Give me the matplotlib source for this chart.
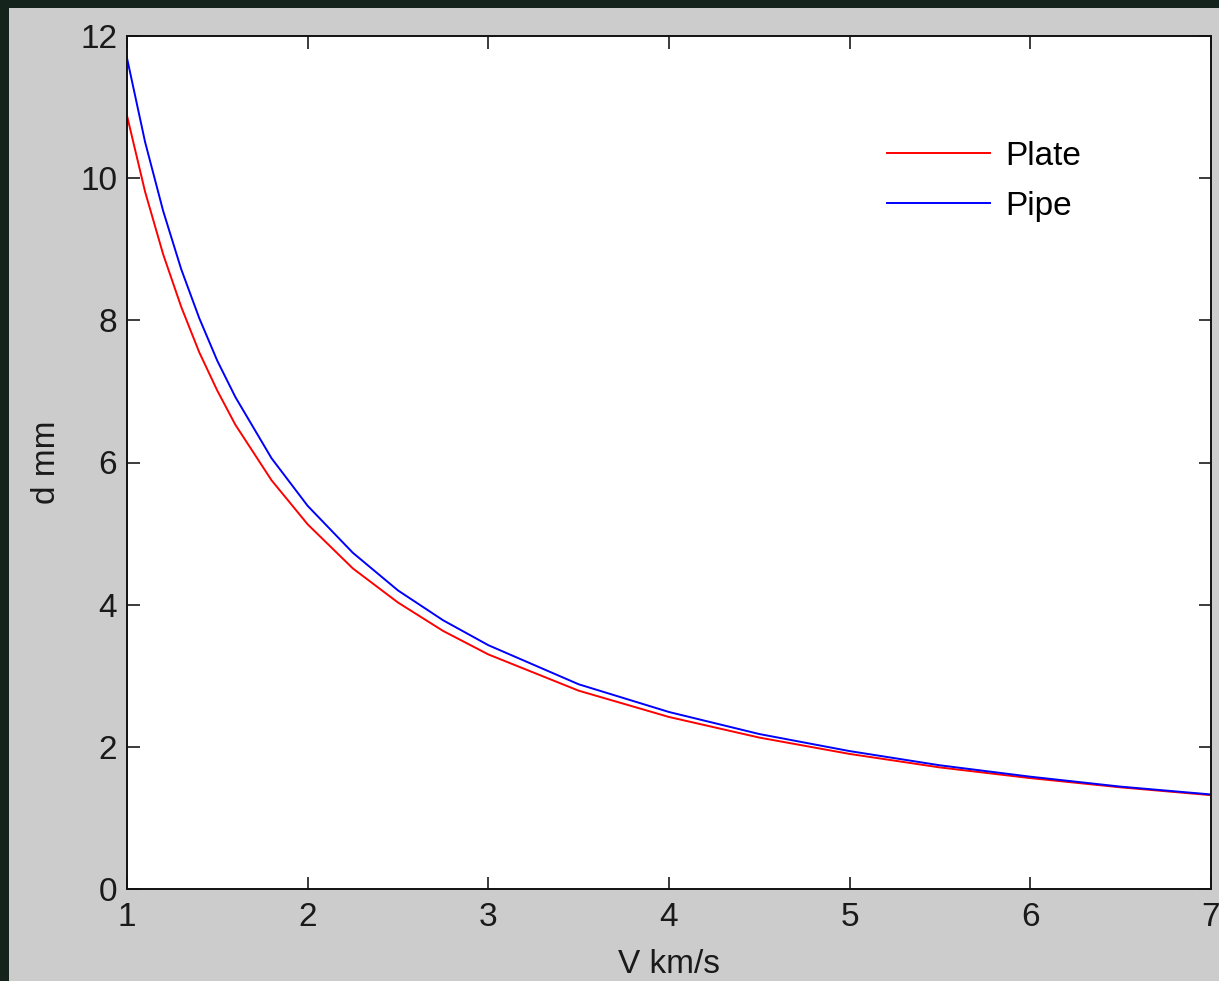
#!/usr/bin/env python3
"""Penetration depth vs impact velocity, plate vs pipe."""

import matplotlib
matplotlib.use("Agg")
import matplotlib.pyplot as plt
from matplotlib.patches import Rectangle

# values
V_KMS = [1.0, 1.1, 1.2, 1.3, 1.4, 1.5, 1.6, 1.8, 2.0, 2.25, 2.5, 2.75,
         3.0, 3.5, 4.0, 4.5, 5.0, 5.5, 6.0, 6.5, 7.0]
D_PLATE = [10.88, 9.81, 8.93, 8.19, 7.55, 7.01, 6.53, 5.75, 5.13, 4.51, 4.03,
           3.63, 3.30, 2.79, 2.42, 2.13, 1.90, 1.71, 1.56, 1.43, 1.32]
D_PIPE = [11.69, 10.51, 9.54, 8.72, 8.03, 7.43, 6.92, 6.06, 5.39, 4.73, 4.20,
          3.78, 3.43, 2.88, 2.49, 2.18, 1.94, 1.74, 1.58, 1.44, 1.33]
X_TICKS = [1, 2, 3, 4, 5, 6, 7]
Y_TICKS = [0, 2, 4, 6, 8, 10, 12]

W, H = 1219, 981

plt.rcParams["font.family"] = ["Liberation Sans", "DejaVu Sans"]
plt.rcParams["font.size"] = 24

fig = plt.figure(figsize=(W / 100, H / 100), dpi=100)
fig.patch.set_facecolor("#14231c")
# grey MATLAB window area
fig.patches.append(Rectangle((9 / W, 0), 1 - 9 / W, 1 - 8 / H,
                             transform=fig.transFigure, facecolor="#cccccc",
                             edgecolor="none", zorder=-5))

ax = fig.add_axes([127 / W, 1 - 889 / H, 1084 / W, 853 / H])
ax.set_facecolor("white")

ax.plot(V_KMS, D_PLATE, color="#ff0000", linewidth=1.4, label="Plate")
ax.plot(V_KMS, D_PIPE, color="#0000ff", linewidth=1.4, label="Pipe")

ax.set_xlim(1, 7)
ax.set_ylim(0, 12)
ax.set_xticks(X_TICKS)
ax.set_yticks(Y_TICKS)
ax.tick_params(direction="in", length=9, width=1.2, top=True, right=True,
               colors="#1a1a1a", labelsize=24, pad=7)
ax.tick_params(axis="x", pad=9)
for s in ax.spines.values():
    s.set_linewidth(1.4)
    s.set_color("#111111")

ax.set_xlabel("V km/s", fontsize=24, labelpad=12, color="#1a1a1a")
ax.set_ylabel("d mm", fontsize=24, labelpad=13, color="#1a1a1a")

ax.legend(loc="upper left", bbox_to_anchor=(870 / W, 1 - 124 / H),
          bbox_transform=fig.transFigure, frameon=False, borderpad=0,
          handlelength=3.1, handletextpad=0.45, labelspacing=0.57,
          fontsize=24)

fig.savefig("out.png", dpi=100, facecolor=fig.get_facecolor())
